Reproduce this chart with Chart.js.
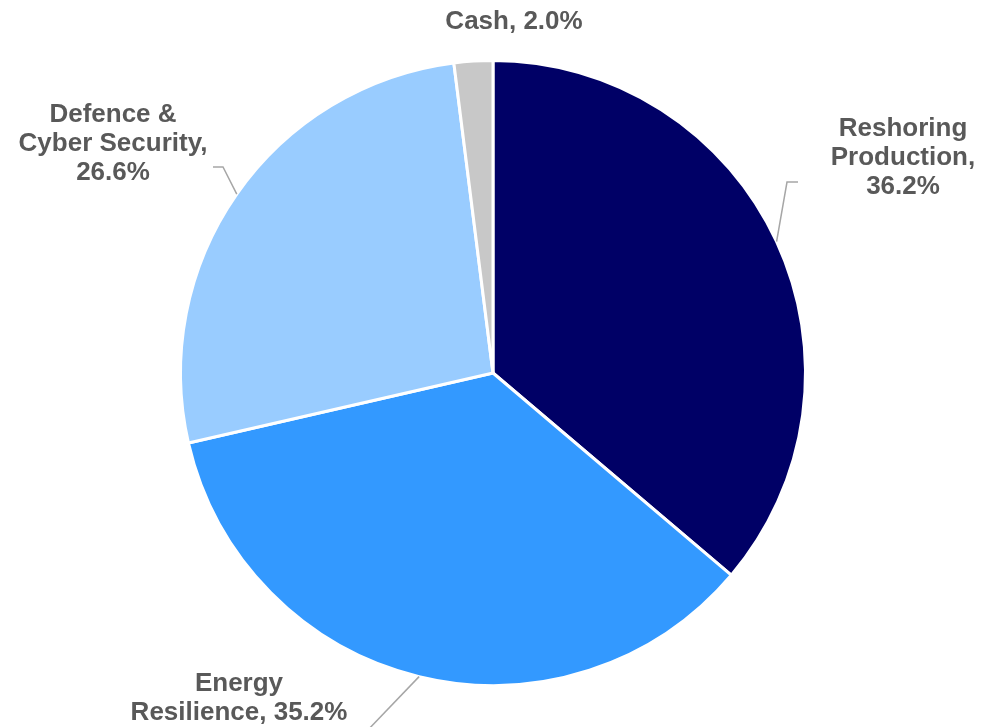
<!DOCTYPE html>
<html>
<head>
<meta charset="utf-8">
<script src="https://cdn.jsdelivr.net/npm/chart.js@4"></script>
<style>
  html, body { margin: 0; padding: 0; background: #fff; }
  #wrap { width: 982px; height: 727px; }
</style>
</head>
<body>
<div id="wrap"><canvas id="pie" width="982" height="727"></canvas></div>
<script>
// chart values
const categories = ['Reshoring Production', 'Energy Resilience', 'Defence & Cyber Security', 'Cash'];
const weights = [36.2, 35.2, 26.6, 2.0];
const sliceColours = ['#000066', '#3399FF', '#99CCFF', '#C8C8C8'];

// how each label breaks over lines ({v} = value)
const labelFormats = ['Reshoring|Production,|{v}', 'Energy|Resilience, {v}', 'Defence &|Cyber Security,|{v}', 'Cash, {v}'];
// label centre, offset from the pie centre
const labelOffsets = [[410, -215], [-254, 325], [-380, -229], [21, -351]];
// leader line elbow points (offset from pie centre), null = no line
const leaderElbows = [
  [[305, -191], [294, -191]],
  [[-128, 360]],
  [[-280, -206], [-270, -206]],
  null
];

const labelPlugin = {
  id: 'sliceLabels',
  afterDatasetsDraw(chart) {
    const ctx = chart.ctx;
    const arcs = chart.getDatasetMeta(0).data;
    ctx.save();
    arcs.forEach((arc, i) => {
      const cx = arc.x, cy = arc.y;
      const mid = (arc.startAngle + arc.endAngle) / 2;
      const r = arc.outerRadius;
      // leader line
      if (leaderElbows[i]) {
        ctx.beginPath();
        ctx.strokeStyle = '#A6A6A6';
        ctx.lineWidth = 1.5;
        const pts = leaderElbows[i];
        ctx.moveTo(cx + pts[0][0], cy + pts[0][1]);
        for (let k = 1; k < pts.length; k++) ctx.lineTo(cx + pts[k][0], cy + pts[k][1]);
        ctx.lineTo(cx + Math.cos(mid) * r, cy + Math.sin(mid) * r);
        ctx.stroke();
      }
      // label text
      const val = weights[i].toFixed(1) + '%';
      const lines = labelFormats[i].replace('{v}', val).split('|');
      const lh = 29;
      ctx.fillStyle = '#595959';
      ctx.font = 'bold 26px "Liberation Sans", Arial, sans-serif';
      ctx.textAlign = 'center';
      ctx.textBaseline = 'middle';
      const lx = cx + labelOffsets[i][0];
      const ly = cy + labelOffsets[i][1];
      const top = ly - (lines.length - 1) * lh / 2;
      lines.forEach((t, k) => ctx.fillText(t, lx, top + k * lh));
    });
    ctx.restore();
  }
};

new Chart(document.getElementById('pie'), {
  type: 'pie',
  data: {
    labels: categories,
    datasets: [{
      data: weights,
      backgroundColor: sliceColours,
      borderColor: '#ffffff',
      borderWidth: 3
    }]
  },
  options: {
    responsive: false,
    animation: false,
    layout: { padding: { top: 59, bottom: 40, left: 179, right: 175 } },
    plugins: {
      legend: { display: false },
      tooltip: { enabled: false }
    }
  },
  plugins: [labelPlugin]
});
</script>
</body>
</html>
